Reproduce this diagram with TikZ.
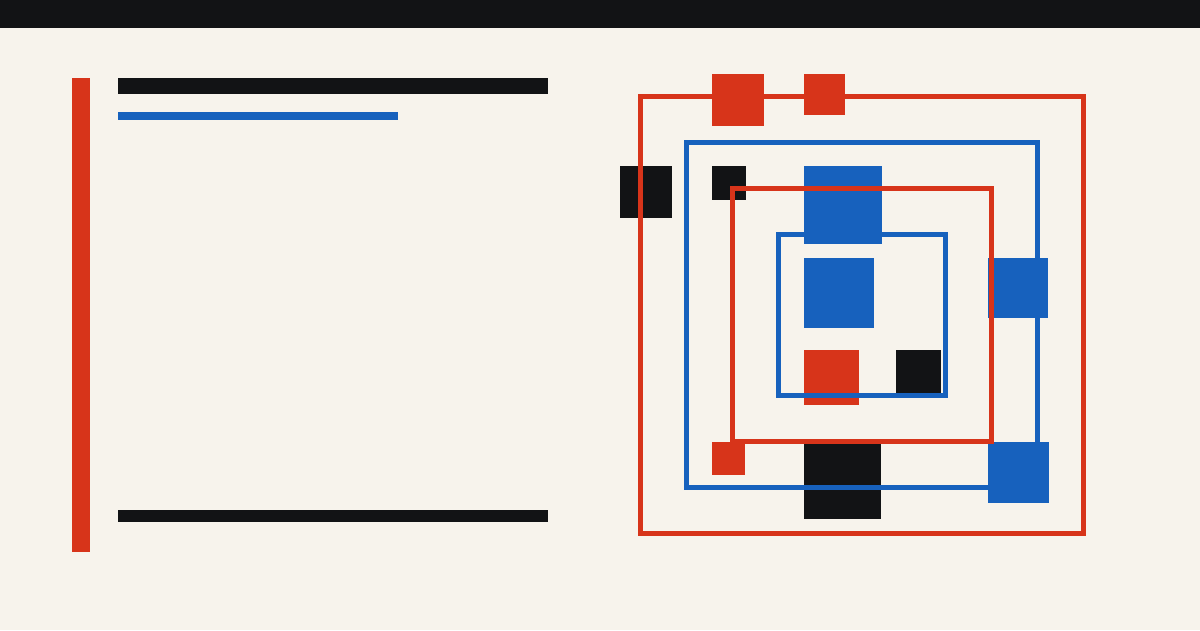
\documentclass[tikz,border=0pt]{standalone}
\definecolor{bg}{RGB}{247,243,236}
\definecolor{ink}{RGB}{18,19,21}
\definecolor{rd}{RGB}{215,52,26}
\definecolor{bl}{RGB}{23,97,189}
\begin{document}
\begin{tikzpicture}[x=1pt,y=-1pt,
  frame/.style={line width=5pt},
  blk/.style={fill=ink},
  redf/.style={fill=rd},
  bluef/.style={fill=bl}]
\fill[bg] (0,0) rectangle (1200,630);
\useasboundingbox (0,0) rectangle (1200,630);
% top bar
\fill[ink] (0,0) rectangle (1200,28);
% left column
\fill[redf] (72,78) rectangle (90,552);
\fill[blk] (118,78) rectangle (548,94);
\fill[bluef] (118,112) rectangle (398,120);
\fill[blk] (118,510) rectangle (548,522);
% squares
\fill[redf] (712,74) rectangle (764,126);
\fill[redf] (804,74) rectangle (845,115);
\fill[blk] (620,166) rectangle (672,218);
\fill[blk] (712,166) rectangle (746,200);
\fill[bluef] (804,166) rectangle (882,244);
\fill[bluef] (804,258) rectangle (874,328);
\fill[bluef] (988,258) rectangle (1048,318);
\fill[redf] (804,350) rectangle (859,405);
\fill[blk] (896,350) rectangle (941,395);
\fill[redf] (712,442) rectangle (745,475);
\fill[blk] (804,442) rectangle (881,519);
\fill[bluef] (988,442) rectangle (1049,503);
% frames
\draw[frame,rd] (640.5,96.5) rectangle (1083.5,533.5);
\draw[frame,bl] (686.5,142.5) rectangle (1037.5,487.5);
\draw[frame,rd] (732.5,188.5) rectangle (991.5,441.5);
\draw[frame,bl] (778.5,234.5) rectangle (945.5,395.5);
\end{tikzpicture}
\end{document}
